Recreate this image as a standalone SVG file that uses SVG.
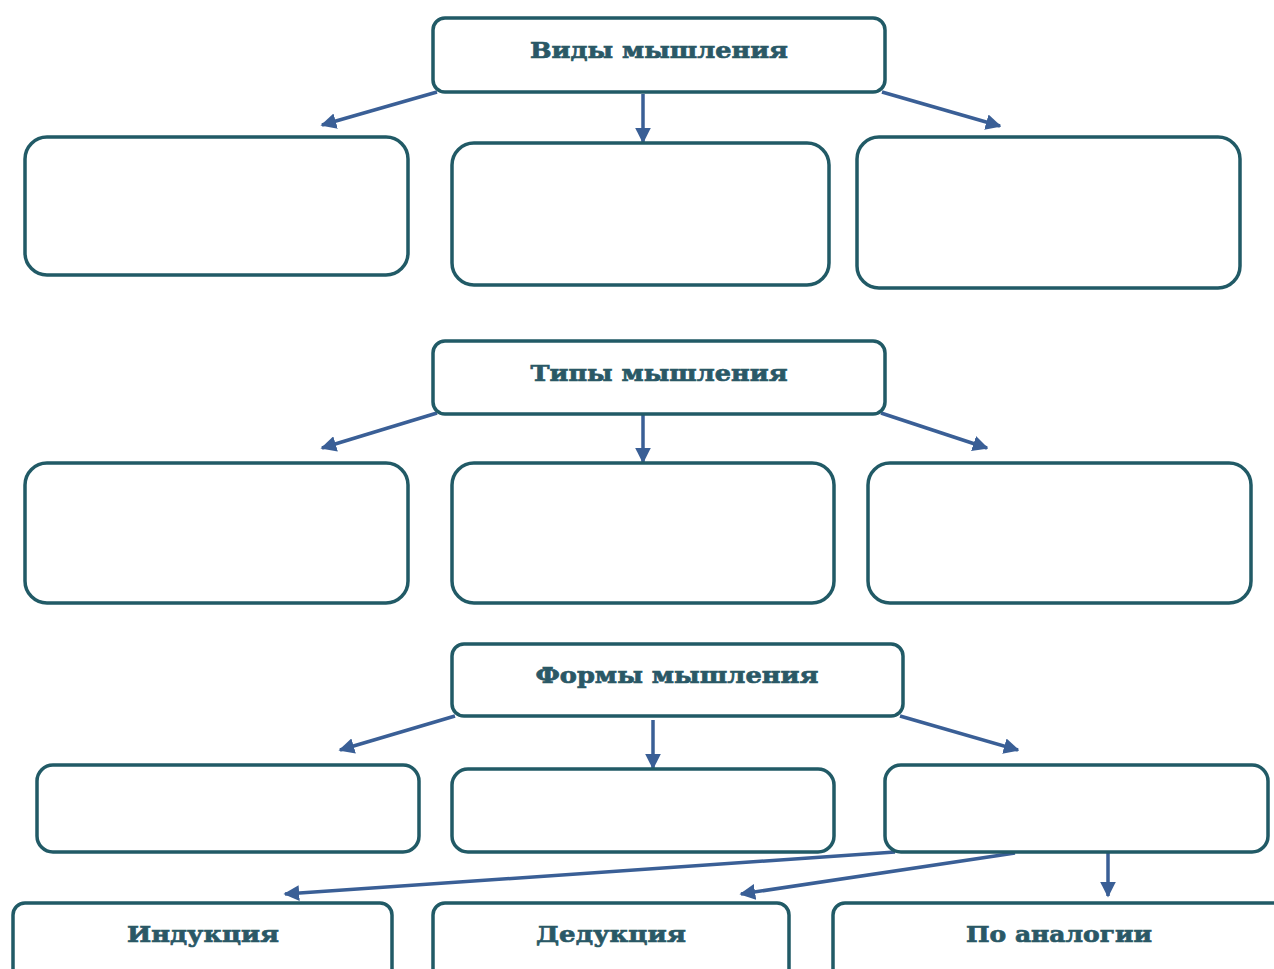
<svg xmlns="http://www.w3.org/2000/svg" width="1274" height="969" viewBox="0 0 1274 969">
<defs>
<marker id="ah" viewBox="0 0 10 10" refX="9" refY="5" markerWidth="4.5" markerHeight="4.5" orient="auto" markerUnits="strokeWidth">
<path d="M0,0 L10,5 L0,10 z" fill="#3a5f96"/>
</marker>
<style>
.box{fill:#fff;stroke:#215a66;stroke-width:3.5}
.lbl{font-family:"DejaVu Serif","Liberation Serif",serif;font-weight:bold;font-size:23px;fill:#2a5866;stroke:#2a5866;stroke-width:0.7;text-anchor:middle}
.arr{stroke:#3a5f96;stroke-width:3.5;fill:none;marker-end:url(#ah)}
</style>
</defs>
<rect width="1274" height="969" fill="#fff"/>
<g id="connectors">
<line class="arr" x1="437" y1="92" x2="322" y2="125"/>
<line class="arr" x1="643" y1="94" x2="643" y2="142"/>
<line class="arr" x1="882" y1="92" x2="1000" y2="126"/>
<line class="arr" x1="437" y1="413" x2="322" y2="448"/>
<line class="arr" x1="643" y1="415" x2="643" y2="462"/>
<line class="arr" x1="881" y1="413" x2="987" y2="448"/>
<line class="arr" x1="455" y1="716" x2="340" y2="750"/>
<line class="arr" x1="653" y1="720" x2="653" y2="768"/>
<line class="arr" x1="900" y1="716" x2="1018" y2="750"/>
<line class="arr" x1="895" y1="852" x2="285" y2="894"/>
<line class="arr" x1="1015" y1="853" x2="741" y2="894"/>
<line class="arr" x1="1108" y1="853" x2="1108" y2="896"/>
</g>
<g id="n_vidy"><rect class="box" x="433" y="18" width="452" height="74" rx="12"/><text class="lbl" x="659" y="58" textLength="258" lengthAdjust="spacingAndGlyphs">Виды мышления</text></g>
<g id="n_v1"><rect class="box" x="25" y="137" width="383" height="138" rx="22"/></g>
<g id="n_v2"><rect class="box" x="452" y="143" width="377" height="142" rx="22"/></g>
<g id="n_v3"><rect class="box" x="857" y="137" width="383" height="151" rx="22"/></g>
<g id="n_tipy"><rect class="box" x="433" y="341" width="452" height="73" rx="12"/><text class="lbl" x="659" y="381" textLength="257" lengthAdjust="spacingAndGlyphs">Типы мышления</text></g>
<g id="n_t1"><rect class="box" x="25" y="463" width="383" height="140" rx="22"/></g>
<g id="n_t2"><rect class="box" x="452" y="463" width="382" height="140" rx="22"/></g>
<g id="n_t3"><rect class="box" x="868" y="463" width="383" height="140" rx="22"/></g>
<g id="n_formy"><rect class="box" x="452" y="644" width="451" height="72" rx="12"/><text class="lbl" x="677" y="683" textLength="283" lengthAdjust="spacingAndGlyphs">Формы мышления</text></g>
<g id="n_f1"><rect class="box" x="37" y="765" width="382" height="87" rx="16"/></g>
<g id="n_f2"><rect class="box" x="452" y="769" width="382" height="83" rx="16"/></g>
<g id="n_f3"><rect class="box" x="885" y="765" width="383" height="87" rx="16"/></g>
<g id="n_ind"><rect class="box" x="13" y="903" width="379" height="100" rx="12"/><text class="lbl" x="203" y="942" textLength="152" lengthAdjust="spacingAndGlyphs">Индукция</text></g>
<g id="n_ded"><rect class="box" x="433" y="903" width="356" height="100" rx="12"/><text class="lbl" x="611" y="942" textLength="150" lengthAdjust="spacingAndGlyphs">Дедукция</text></g>
<g id="n_analog"><rect class="box" x="833" y="903" width="460" height="100" rx="12"/><text class="lbl" x="1059" y="942" textLength="186" lengthAdjust="spacingAndGlyphs">По аналогии</text></g>
</svg>
